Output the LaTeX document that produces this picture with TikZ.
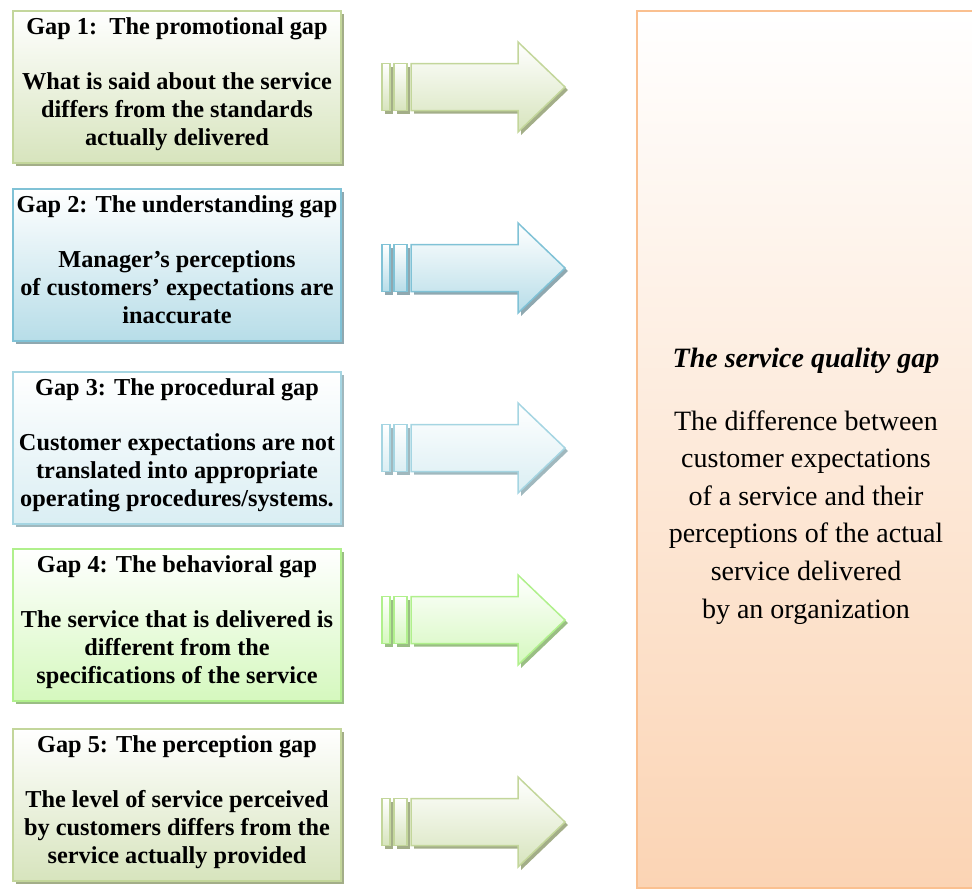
\documentclass[tikz,border=0pt]{standalone}
\usepackage{fontspec}
\setmainfont{Liberation Serif}
\definecolor{olB}{HTML}{C3D69B}
\definecolor{olF}{HTML}{D7E4BD}
\definecolor{olS}{HTML}{A3AE88}
\definecolor{buB}{HTML}{80C2D6}
\definecolor{buF}{HTML}{B7DDE8}
\definecolor{buS}{HTML}{8FA8B0}
\definecolor{lbB}{HTML}{A5D5E2}
\definecolor{lbF}{HTML}{DAEEF3}
\definecolor{lbS}{HTML}{A0B8BE}
\definecolor{grB}{HTML}{B0F08C}
\definecolor{grF}{HTML}{D5F8BE}
\definecolor{grS}{HTML}{9ABE84}
\definecolor{peB}{HTML}{FAC090}
\definecolor{peF}{HTML}{FBD4B4}
\tikzset{
  gapbox/.style={draw=#1B, line width=2pt, top color=white, bottom color=#1F,
    minimum width=328, minimum height=152, anchor=north west, inner sep=0pt, outer sep=0pt},
  gaptitle/.style={font=\fontsize{24.3}{28}\selectfont\bfseries, anchor=base, inner sep=0pt},
  gapbody/.style={font=\fontsize{24.3}{28}\selectfont\bfseries, align=center, anchor=base, inner sep=0pt},
  arrowpart/.style={draw=#1B, line width=1.5pt, top color=white, bottom color=#1F},
  sqtext/.style={font=\fontsize{28}{37.6}\selectfont, align=center, anchor=base, inner sep=0pt}
}
% body nodes: with align, the base anchor lies on the LAST line
\newcommand\gapboxdraw[5]{%
  \fill[#3S] (16,#2+3) rectangle (344,#2+155);
  \node[gapbox=#3] (#1) at (13,#2) {};
  \node[gaptitle] (#1t) at ([yshift=-23.5pt]#1.north) {#4};
  \node[gapbody] (#1b) at ([yshift=-134.5pt]#1.north) {#5};
}
\newcommand\gaparrowdraw[2]{%
  \begin{scope}[shift={(0,#1)}]
    \begin{scope}[shift={(3,3)}]
      \fill[#2S] (382,-23.5) rectangle (390,23.5);
      \fill[#2S] (394,-23.5) rectangle (407,23.5);
      \fill[#2S] (411,-23.5) -- (518,-23.5) -- (518,-45) -- (565,0) -- (518,45) -- (518,23.5) -- (411,23.5) -- cycle;
    \end{scope}
    \path[arrowpart=#2] (382,-23.5) rectangle (390,23.5);
    \path[arrowpart=#2] (394,-23.5) rectangle (407,23.5);
    \path[arrowpart=#2] (411,-23.5) -- (518,-23.5) -- (518,-45) -- (565,0) -- (518,45) -- (518,23.5) -- (411,23.5) -- cycle;
  \end{scope}
}
\begin{document}
\begin{tikzpicture}[x=1pt, y=-1pt]
\useasboundingbox (0,0) rectangle (972,889);
\clip (0,0) rectangle (972,889);

\gapboxdraw{g1}{11}{ol}{Gap 1:\ \ The promotional gap}{What is said about the service\\differs from the standards\\actually delivered}
\gapboxdraw{g2}{189}{bu}{Gap 2: The understanding gap}{Manager’s perceptions\\of customers’ expectations are\\inaccurate}
\gapboxdraw{g3}{372}{lb}{Gap 3: The procedural gap}{Customer expectations are not\\translated into appropriate\\operating procedures/systems.}
\gapboxdraw{g4}{549}{gr}{Gap 4: The behavioral gap}{The service that is delivered is\\different from the\\specifications of the service}
\gapboxdraw{g5}{729}{ol}{Gap 5: The perception gap}{The level of service perceived\\by customers differs from the\\service actually provided}

\gaparrowdraw{87}{ol}
\gaparrowdraw{268}{bu}
\gaparrowdraw{448}{lb}
\gaparrowdraw{620}{gr}
\gaparrowdraw{822}{ol}

\node[draw=peB, line width=2.5pt, top color=white, bottom color=peF,
  minimum width=345, minimum height=877, anchor=north west, inner sep=0pt, outer sep=0pt] (sq) at (637,11) {};
\node[sqtext, font=\fontsize{28}{37.6}\selectfont\bfseries\itshape] (sqt) at (806,367) {The service quality gap};
\node[sqtext] (sqb) at (806,618) {The difference between\\customer expectations\\of a service and their\\perceptions of the actual\\service delivered\\by an organization};
\end{tikzpicture}
\end{document}
